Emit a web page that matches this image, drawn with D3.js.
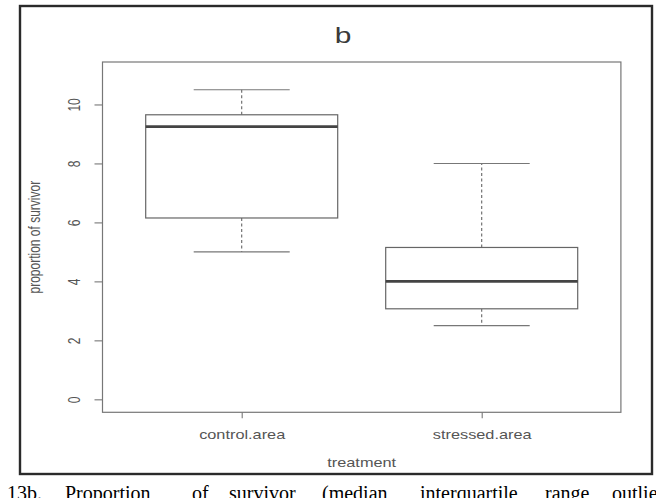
<!DOCTYPE html>
<html>
<head>
<meta charset="utf-8">
<script src="https://cdn.jsdelivr.net/npm/d3@7/dist/d3.min.js"></script>
<style>
  html, body { margin: 0; padding: 0; background: #fff; }
  svg { display: block; }
</style>
</head>
<body>
<div id="chart"></div>
<script>
// ---- data ----
const categories   = ["control.area", "stressed.area"];
const whiskerLow   = [5.0, 2.5];
const q1           = [6.15, 3.07];
const median       = [9.25, 4.0];
const q3           = [9.65, 5.15];
const whiskerHigh  = [10.5, 8.0];
const yTicks       = [0, 2, 4, 6, 8, 10];
const titleText    = "b";
const xLabel       = "treatment";
const yLabel       = "proportion of survivor";
const captionWords = ["13b.", "Proportion", "of", "survivor", "(median,", "interquartile", "range,", "outliers"];
const captionX     = [7, 65, 192, 229, 322, 420, 545, 612];

// ---- layout ----
const W = 656, H = 498;
const stretch = 1.36; // horizontal stretch of the reference image
const plot = { left: 102.5, right: 620.9, top: 62, bottom: 412.3 };

const svg = d3.select("#chart").append("svg")
  .attr("width", W).attr("height", H)
  .style("font-family", "'Liberation Sans', Arial, sans-serif");

const x = d3.scaleLinear().domain([0.42, 2.58]).range([plot.left, plot.right]);
const y = d3.scaleLinear().domain([-0.44, 11.44]).range([plot.bottom, plot.top]);

const boxes = categories.map((c, i) => ({
  cat: c, pos: i + 1,
  lo: whiskerLow[i], q1: q1[i], med: median[i], q3: q3[i], hi: whiskerHigh[i]
}));

// outer frame
svg.append("rect")
  .attr("x", 20).attr("y", 6).attr("width", 632).attr("height", 468)
  .attr("fill", "none").attr("stroke", "#2a2a2a").attr("stroke-width", 2.4);

// whiskers (dashed)
const g = svg.append("g");
boxes.forEach(b => {
  const cx = x(b.pos);
  g.append("line").attr("x1", cx).attr("x2", cx).attr("y1", y(b.q3)).attr("y2", y(b.hi))
    .attr("stroke", "#666").attr("stroke-width", 1.1).attr("stroke-dasharray", "3,2.5");
  g.append("line").attr("x1", cx).attr("x2", cx).attr("y1", y(b.q1)).attr("y2", y(b.lo))
    .attr("stroke", "#666").attr("stroke-width", 1.1).attr("stroke-dasharray", "3,2.5");
  // caps
  [b.lo, b.hi].forEach(v => {
    g.append("line").attr("x1", x(b.pos - 0.2)).attr("x2", x(b.pos + 0.2))
      .attr("y1", y(v)).attr("y2", y(v))
      .attr("stroke", "#777").attr("stroke-width", 1.1);
  });
  // box
  g.append("rect")
    .attr("x", x(b.pos - 0.4)).attr("width", x(b.pos + 0.4) - x(b.pos - 0.4))
    .attr("y", y(b.q3)).attr("height", y(b.q1) - y(b.q3))
    .attr("fill", "#fff").attr("stroke", "#666").attr("stroke-width", 1.2);
  // median
  g.append("line").attr("x1", x(b.pos - 0.4)).attr("x2", x(b.pos + 0.4))
    .attr("y1", y(b.med)).attr("y2", y(b.med))
    .attr("stroke", "#444").attr("stroke-width", 2.6);
});

// plot box
svg.append("rect")
  .attr("x", plot.left).attr("y", plot.top)
  .attr("width", plot.right - plot.left).attr("height", plot.bottom - plot.top)
  .attr("fill", "none").attr("stroke", "#777").attr("stroke-width", 1.2);

// y axis
const yAxis = svg.append("g")
  .attr("transform", `translate(${plot.left},0)`)
  .call(d3.axisLeft(y).tickValues(yTicks).tickSize(8).tickFormat(d3.format("d")));
yAxis.select(".domain").remove();
yAxis.selectAll(".tick line").attr("stroke", "#777").attr("stroke-width", 1.1);
yAxis.selectAll(".tick text")
  .attr("x", null).attr("dy", null)
  .attr("text-anchor", "middle")
  .attr("transform", `translate(-22.5,0) scale(${stretch},1) rotate(-90)`)
  .attr("fill", "#555").style("font-size", "12px")
  .style("font-family", "'Liberation Sans', Arial, sans-serif");

// x axis
const xAxis = svg.append("g")
  .attr("transform", `translate(0,${plot.bottom})`)
  .call(d3.axisBottom(x).tickValues(boxes.map(b => b.pos)).tickSize(6)
    .tickFormat((d, i) => categories[i]));
xAxis.select(".domain").remove();
xAxis.selectAll(".tick line").attr("stroke", "#777").attr("stroke-width", 1.1);
xAxis.selectAll(".tick text")
  .attr("y", null).attr("dy", null)
  .attr("text-anchor", "middle")
  .attr("transform", `translate(0,27) scale(${stretch},1)`)
  .attr("fill", "#555").style("font-size", "12px")
  .style("font-family", "'Liberation Sans', Arial, sans-serif");

// axis titles
svg.append("text")
  .attr("transform", `translate(${(plot.left + plot.right) / 2},467) scale(${stretch},1)`)
  .attr("text-anchor", "middle").attr("fill", "#555").style("font-size", "12px")
  .text(xLabel);

svg.append("text")
  .attr("transform", `translate(40,${(plot.top + plot.bottom) / 2}) scale(${stretch},1) rotate(-90)`)
  .attr("text-anchor", "middle").attr("fill", "#555").style("font-size", "12px")
  .text(yLabel);

// title
svg.append("text")
  .attr("transform", `translate(343,43) scale(${stretch},1)`)
  .attr("text-anchor", "middle").attr("fill", "#3a3a3a").style("font-size", "22px")
  .text(titleText);

// caption (cut off at bottom)
const cap = svg.append("text")
  .attr("y", 500)
  .style("font-family", "'Liberation Serif', 'Times New Roman', serif")
  .style("font-size", "20px").attr("fill", "#000");
captionWords.forEach((w, i) => {
  cap.append("tspan").attr("x", captionX[i]).text(w);
});
</script>
</body>
</html>
